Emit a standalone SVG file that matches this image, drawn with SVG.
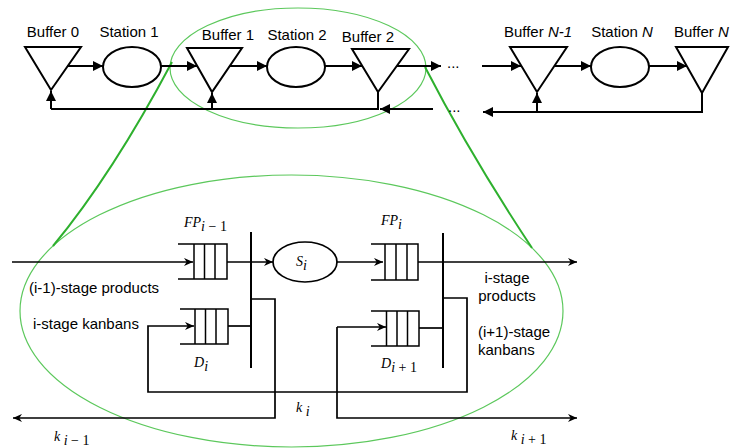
<svg xmlns="http://www.w3.org/2000/svg" width="730" height="448" viewBox="0 0 730 448">
<style>
.s{fill:none;stroke:#000;stroke-width:2}
.t{fill:none;stroke:#000;stroke-width:1.7}
.q{fill:none;stroke:#000;stroke-width:1.5}
.lb{font-family:"Liberation Sans",Arial,sans-serif;font-size:15px;fill:#000}
.m{font-family:"Liberation Serif","Times New Roman",serif;font-size:14px;font-style:italic;fill:#000}
.u{font-style:normal}
.ge{fill:none;stroke:#5cc85c;stroke-width:1.2}
.gl{fill:none;stroke:#2eb02e;stroke-width:2}
</style>
<defs>
<marker id="a" viewBox="0 0 10 10" refX="10" refY="5" markerWidth="11" markerHeight="10" markerUnits="userSpaceOnUse" orient="auto"><path d="M0,0 L10,5 L0,10 z" fill="#000"/></marker>
<marker id="b" viewBox="0 0 10 10" refX="10" refY="5" markerWidth="10" markerHeight="9" markerUnits="userSpaceOnUse" orient="auto"><path d="M0,0.5 L10,5 L0,9.5 L3,5 z" fill="#000"/></marker>
</defs>
<rect width="730" height="448" fill="#fff"/>

<g id="zoom">
<ellipse class="ge" cx="298" cy="68" rx="128" ry="60"/>
<ellipse class="ge" cx="291.5" cy="311" rx="271.5" ry="136"/>
<path class="gl" d="M172,62 Q112.6,174 53,246"/>
<path class="gl" d="M425,67 Q471,156 532,248"/>
</g>

<g id="buffer0"><polygon class="s" points="25,47 81,47 51,90"/><text class="lb" x="53" y="37" text-anchor="middle">Buffer 0</text></g>
<g id="station1"><ellipse class="s" cx="132" cy="67" rx="29" ry="20"/><text class="lb" x="129" y="37" text-anchor="middle">Station 1</text></g>
<g id="buffer1"><polygon class="s" points="187,48 242,48 212,92"/><text class="lb" x="228" y="40" text-anchor="middle">Buffer 1</text></g>
<g id="station2"><ellipse class="s" cx="296" cy="67" rx="29" ry="20"/><text class="lb" x="297" y="40" text-anchor="middle">Station 2</text></g>
<g id="buffer2"><polygon class="s" points="352,49 409,49 378,92"/><text class="lb" x="368" y="42" text-anchor="middle">Buffer 2</text></g>
<g id="bufferN1"><polygon class="s" points="510,47 567,47 537,92"/><text class="lb" x="538" y="37" text-anchor="middle">Buffer <tspan font-style="italic">N-1</tspan></text></g>
<g id="stationN"><ellipse class="s" cx="620" cy="67" rx="29" ry="20"/><text class="lb" x="622" y="37" text-anchor="middle">Station <tspan font-style="italic">N</tspan></text></g>
<g id="bufferN"><polygon class="s" points="676,47 728,47 702,93"/><text class="lb" x="674" y="37">Buffer <tspan font-style="italic">N</tspan></text></g>

<g id="dots">
<text class="lb" x="447" y="68">...</text>
<text class="lb" x="448" y="112">...</text>
</g>

<g id="top-connectors">
<path class="s" d="M67,66 H103" marker-end="url(#a)"/>
<path class="s" d="M161,66 H197" marker-end="url(#a)"/>
<path class="s" d="M230,66 H267" marker-end="url(#a)"/>
<path class="s" d="M325,66 H362" marker-end="url(#a)"/>
<path class="s" d="M397,66 H441" marker-end="url(#a)"/>
<path class="s" d="M482,66 H521" marker-end="url(#a)"/>
<path class="s" d="M555,66 H591" marker-end="url(#a)"/>
<path class="s" d="M649,66 H687" marker-end="url(#a)"/>
<path class="s" d="M378,92 V109 M379,109 H51"/>
<path class="s" d="M433,109 H380" marker-end="url(#a)"/>
<path class="s" d="M51,109 V91" marker-end="url(#a)"/>
<path class="s" d="M212,109 V93" marker-end="url(#a)"/>
<path class="s" d="M702,93 V112 H483" marker-end="url(#a)"/>
<path class="s" d="M537,112 V93" marker-end="url(#a)"/>
</g>

<g id="FPim1">
<path class="q" d="M178,244 H227 V279 H178 M194,244 V279 M204.5,244 V279 M215,244 V279"/>
<text class="m" x="184" y="227">FP<tspan dy="4">i</tspan><tspan class="u"> − 1</tspan></text>
</g>
<g id="Di">
<path class="q" d="M180,309 H228 V344 H180 M195,309 V344 M205.5,309 V344 M216,309 V344"/>
<text class="m" x="194" y="367">D<tspan dy="4">i</tspan></text>
</g>
<g id="Si">
<ellipse class="t" cx="305" cy="262" rx="32" ry="20"/>
<text class="m" x="296" y="266">S<tspan dy="4">i</tspan></text>
</g>
<g id="FPi">
<path class="q" d="M371,244 H418 V280 H371 M385,244 V280 M396,244 V280 M407,244 V280"/>
<text class="m" x="381" y="225">FP<tspan dy="4">i</tspan></text>
</g>
<g id="Di1">
<path class="q" d="M371,311 H419 V346 H371 M386.5,311 V346 M397,311 V346 M407.5,311 V346"/>
<text class="m" x="381" y="368">D<tspan dy="4">i</tspan><tspan class="u"> + 1</tspan></text>
</g>
<g id="bar-left"><path class="s" d="M251,232 V368"/></g>
<g id="bar-right"><path class="s" d="M443,233 V368"/></g>

<g id="lower-labels">
<text class="lb" x="29" y="293">(i-1)-stage products</text>
<text class="lb" x="33" y="329">i-stage kanbans</text>
<text class="lb" x="507" y="283" text-anchor="middle">i-stage</text>
<text class="lb" x="507" y="301" text-anchor="middle">products</text>
<text class="lb" x="478" y="337">(i+1)-stage</text>
<text class="lb" x="478" y="355">kanbans</text>
<text class="m" x="296" y="412">k<tspan dy="4"> i</tspan></text>
<text class="m" x="54" y="441">k<tspan dy="4"> i</tspan><tspan class="u"> − 1</tspan></text>
<text class="m" x="511" y="440">k<tspan dy="4"> i</tspan><tspan class="u"> + 1</tspan></text>
</g>

<g id="lower-connectors">
<path class="t" d="M12,262 H193" marker-end="url(#b)"/>
<path class="t" d="M227,262 H273" marker-end="url(#b)"/>
<path class="t" d="M337,262 H383" marker-end="url(#b)"/>
<path class="t" d="M418,262 H577" marker-end="url(#b)"/>
<path class="t" d="M228,326 H251"/>
<path class="t" d="M419,328 H443"/>
<path class="t" d="M251,299 H275 V418 H13" marker-end="url(#b)"/>
<path class="t" d="M443,298 H467 V392 H148 V326 H194" marker-end="url(#b)"/>
<path class="t" d="M337,327 V418 H577" marker-end="url(#b)"/>
<path class="t" d="M337,327 H386" marker-end="url(#b)"/>
</g>
</svg>
